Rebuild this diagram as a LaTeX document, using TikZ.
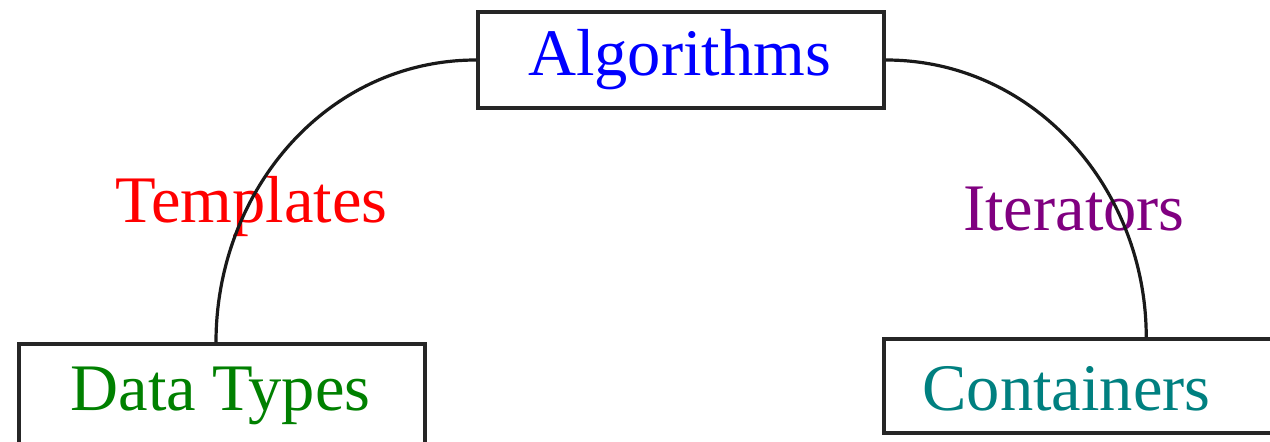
\documentclass[tikz,border=0pt]{standalone}
\usepackage{fontspec}
\setmainfont{Liberation Serif}
\definecolor{algblue}{RGB}{0,0,255}
\definecolor{dtgreen}{RGB}{0,128,0}
\definecolor{tplred}{RGB}{255,0,0}
\definecolor{itpurple}{RGB}{128,0,128}
\definecolor{ctteal}{RGB}{0,128,128}
\begin{document}
\begin{tikzpicture}[x=1pt,y=-1pt,
  box/.style={draw=black!85, line width=3.5pt, fill=white, inner sep=0pt},
  lbl/.style={font=\fontsize{66.5}{80}\selectfont, anchor=base, inner sep=0pt},
  link/.style={draw=black!90, line width=3.2pt}]
\useasboundingbox (0,0) rectangle (1270,442);

% the three component boxes
\node[box, minimum width=406pt, minimum height=96pt] (alg)  at (681,60)    {};
\node[box, minimum width=406pt, minimum height=100pt] (dt)  at (222,394)   {};
\node[box, minimum width=406pt, minimum height=94pt] (cont) at (1087,386)   {};

% box captions
\node[lbl, text=algblue]  (algtxt)  at (679.5,75) {Algorithms};
\node[lbl, text=dtgreen]  (dttxt)   at (220.5,410) {Data Types};
\node[lbl, text=ctteal]   (conttxt) at (1066.5,410) {Containers};

% edge captions
\node[lbl, text=tplred]   (tpl) at (251.5,222) {Templates};
\node[lbl, text=itpurple] (itr) at (1074,230) {Iterators};

% arcs joining the boxes
\draw[link] (alg.west) to[out=180,in=90] ([xshift=-6pt]dt.north);
\draw[link] (alg.east) to[out=0,in=90] ([xshift=264pt]cont.north west);
\end{tikzpicture}
\end{document}
